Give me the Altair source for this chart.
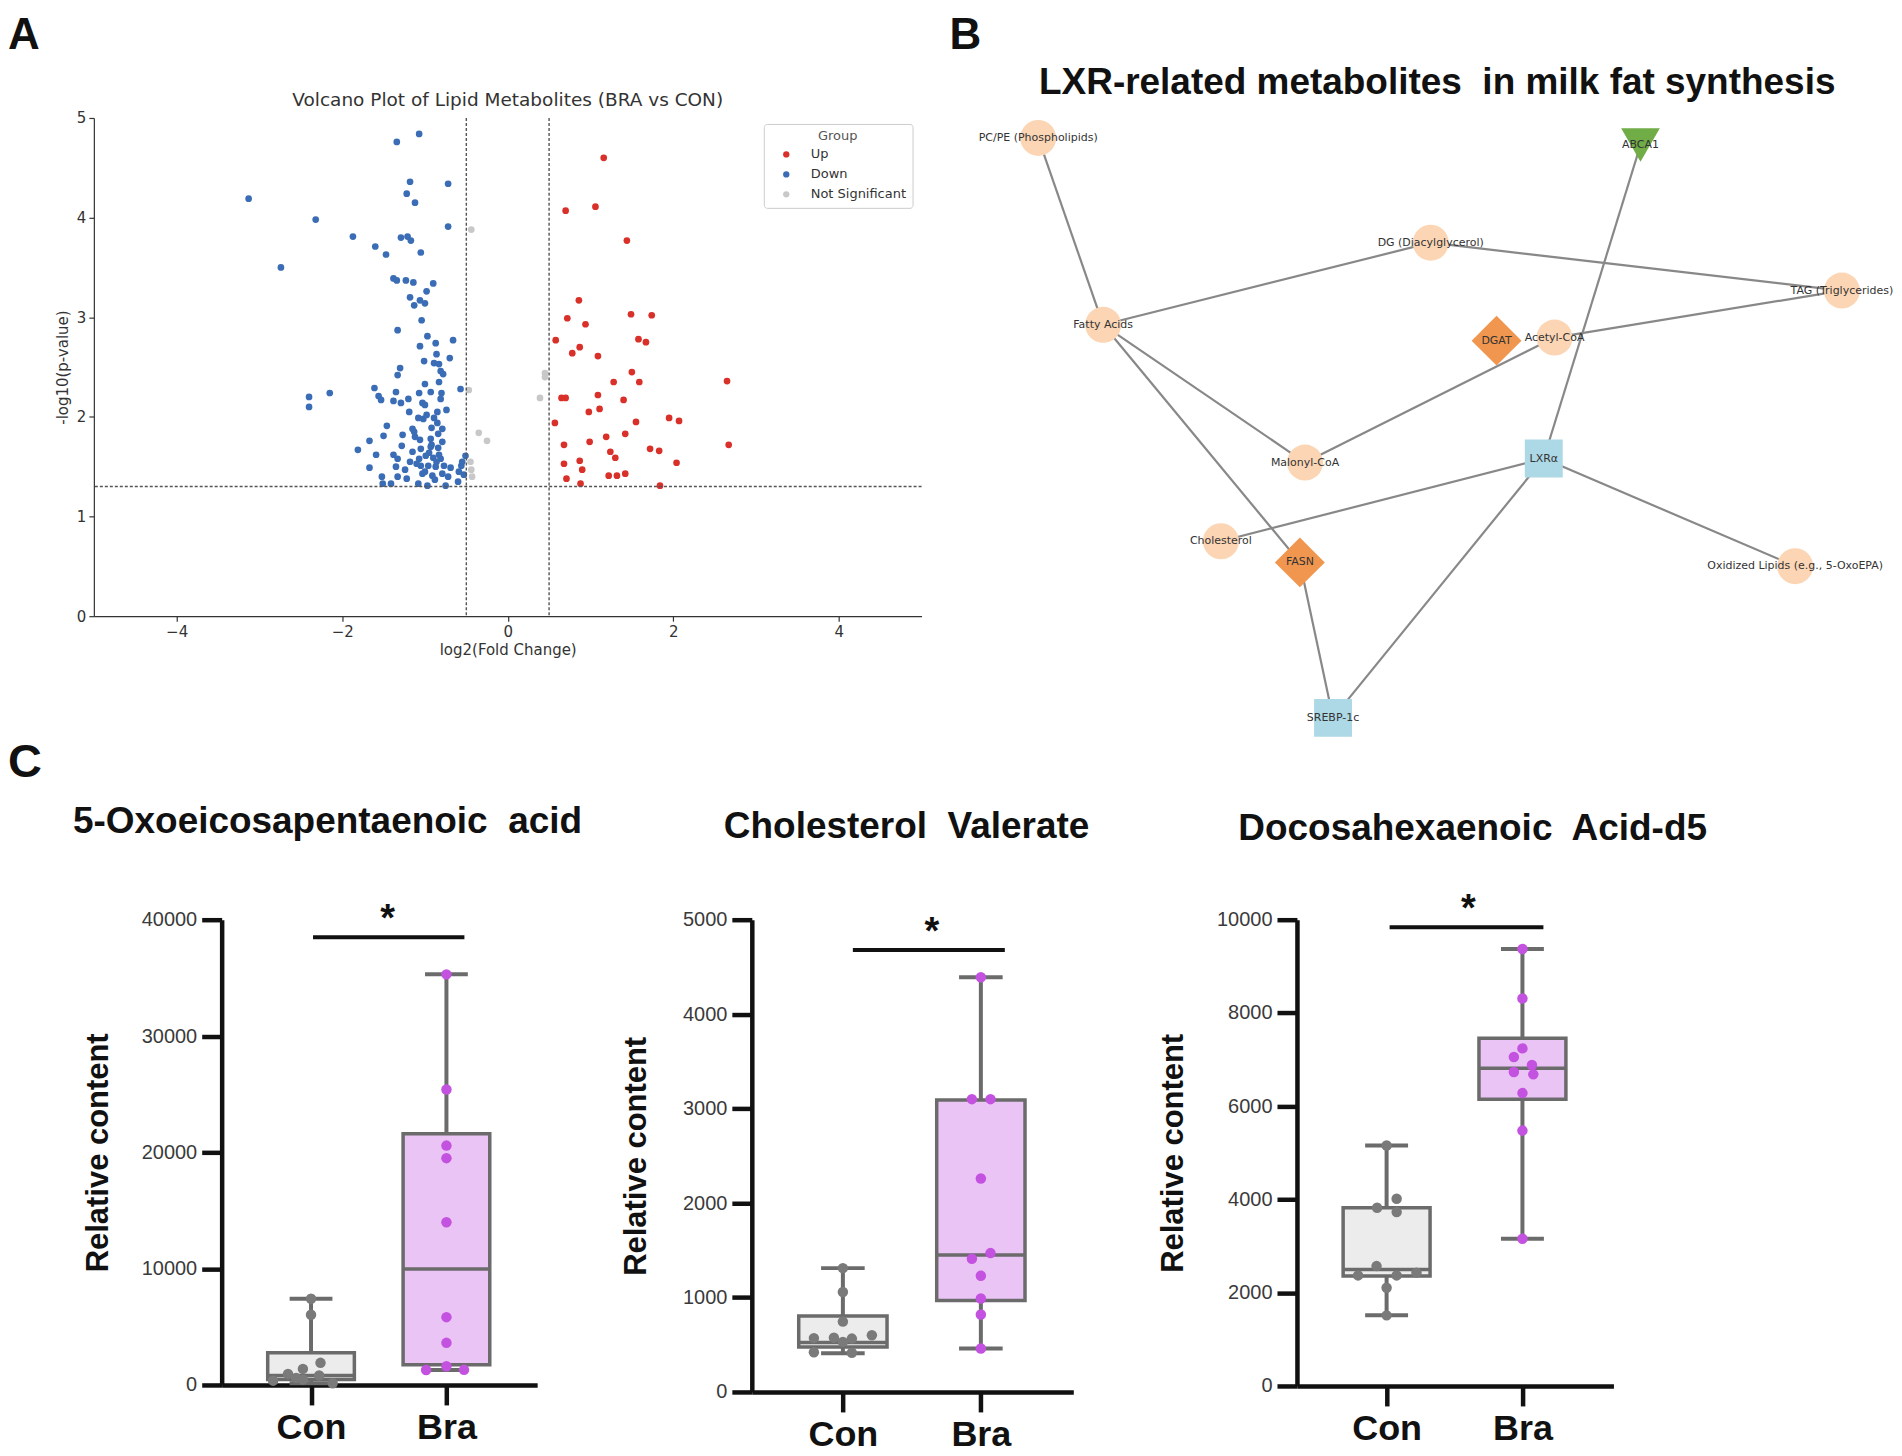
import json
import altair as alt
import pandas as pd

FA = "DejaVu Sans"
FB = "Liberation Sans"

# ---------------- Panel A: volcano data (log2FC, -log10 p) ----------------
down_pts = [
    (-1.07, 4.84), (-1.34, 4.76), (-1.18, 4.36), (-0.72, 4.34), (-3.13, 4.19), (-1.22, 4.24),
    (-1.12, 4.15), (-2.32, 3.98), (-0.72, 3.91), (-1.87, 3.81), (-1.29, 3.80), (-1.21, 3.81),
    (-1.17, 3.77), (-1.60, 3.71), (-1.47, 3.63), (-1.05, 3.65), (-2.74, 3.50), (-1.38, 3.39),
    (-1.34, 3.37), (-1.23, 3.37), (-1.14, 3.35), (-0.90, 3.34), (-0.98, 3.26), (-1.18, 3.20),
    (-1.06, 3.17), (-1.13, 3.12), (-1.00, 3.14), (-1.04, 2.97), (-1.33, 2.87),
    (-0.97, 2.81), (-0.66, 2.77), (-1.06, 2.71), (-0.87, 2.74), (-0.86, 2.63), (-0.70, 2.59),
    (-1.01, 2.56), (-0.89, 2.54), (-0.83, 2.53), (-1.30, 2.49), (-0.81, 2.46), (-1.33, 2.42),
    (-0.78, 2.43), (-0.83, 2.35), (-1.00, 2.33), (-1.61, 2.29), (-0.57, 2.28), (-2.15, 2.24),
    (-2.40, 2.20), (-2.40, 2.10), (-1.35, 2.25), (-1.07, 2.24), (-1.56, 2.21), (-0.80, 2.24),
    (-0.81, 2.18), (-1.53, 2.17), (-1.38, 2.16), (-1.29, 2.14), (-1.20, 2.18), (-1.03, 2.14),
    (-1.00, 2.12), (-0.74, 2.07), (-1.19, 2.05), (-1.08, 1.99), (-1.02, 1.98), (-0.89, 1.99),
    (-0.85, 1.94), (-1.46, 1.91), (-1.15, 1.88), (-1.13, 1.85), (-0.92, 1.89), (-0.79, 1.88),
    (-0.84, 1.83), (-1.50, 1.81), (-1.27, 1.82), (-1.67, 1.76), (-1.06, 1.77), (-0.93, 1.78),
    (-0.79, 1.75), (-1.81, 1.67), (-1.28, 1.71), (-1.05, 1.68), (-0.93, 1.70), (-0.84, 1.69),
    (-1.59, 1.62), (-1.38, 1.62), (-1.33, 1.58), (-1.18, 1.55), (-1.07, 1.58), (-0.99, 1.61),
    (-0.90, 1.59), (-0.81, 1.58), (-0.51, 1.61), (-1.67, 1.49), (-1.35, 1.50), (-1.24, 1.47),
    (-1.05, 1.51), (-0.96, 1.51), (-0.87, 1.50), (-0.77, 1.51), (-0.69, 1.49), (-0.56, 1.51),
    (-1.52, 1.40), (-1.33, 1.40), (-1.03, 1.43), (-0.91, 1.41), (-0.79, 1.43), (-0.59, 1.45),
    (-1.51, 1.33), (-1.41, 1.33), (-1.08, 1.33), (-0.97, 1.31), (-0.75, 1.31), (-0.60, 1.35),
    (-0.95, 1.64), (-1.10, 1.53), (-0.86, 1.55), (-1.00, 1.45), (-0.92, 1.72), (-0.83, 1.62),
    (-1.15, 1.65), (-0.88, 1.37), (-0.72, 1.40), (-1.22, 1.38), (-0.55, 1.55), (-0.53, 1.42),
    (-0.98, 2.02), (-0.93, 2.25), (-0.85, 2.05), (-1.12, 1.80),
]
up_pts = [
    (1.16, 4.60), (0.70, 4.07), (1.06, 4.11), (1.44, 3.77), (0.86, 3.17), (0.72, 2.99),
    (1.49, 3.03), (1.74, 3.02), (0.94, 2.93), (0.58, 2.77), (0.87, 2.70), (0.78, 2.64),
    (1.58, 2.78), (1.67, 2.75), (1.09, 2.61), (1.50, 2.45), (1.28, 2.35), (1.59, 2.35),
    (2.65, 2.36), (0.65, 2.19), (0.70, 2.19), (1.09, 2.22), (1.40, 2.17), (0.98, 2.05),
    (1.11, 2.08), (0.57, 1.94), (1.55, 1.95), (1.95, 1.99), (2.07, 1.96), (1.19, 1.80),
    (1.42, 1.83), (0.99, 1.75), (0.68, 1.72), (2.67, 1.72), (1.72, 1.68), (1.83, 1.66),
    (1.24, 1.65), (1.30, 1.59), (0.68, 1.53), (0.87, 1.56), (2.04, 1.54), (0.90, 1.47),
    (1.22, 1.41), (1.32, 1.41), (1.42, 1.43), (0.71, 1.38), (0.88, 1.33), (1.84, 1.31),
]
ns_pts = [
    (-0.44, 3.88), (-0.35, 1.84), (-0.25, 1.76), (-0.45, 1.55), (-0.44, 1.47), (-0.43, 1.40),
    (-0.47, 2.27), (0.45, 2.44), (0.45, 2.40), (0.39, 2.19),
]
fc_thresholds = [-0.5, 0.5]
p_threshold = [1.301]
group_names = ["Up", "Down", "Not Significant"]
group_colors = ["#d9302a", "#3a6db5", "#c8c8c8"]
volcano_title = ["Volcano Plot of Lipid Metabolites (BRA vs CON)"]

# ---------------- Panel B: network ----------------
node_names = ["PC/PE (Phospholipids)", "ABCA1", "DG (Diacylglycerol)", "TAG (Triglycerides)",
              "Fatty Acids", "DGAT", "Acetyl-CoA", "Malonyl-CoA", "LXRα", "Cholesterol",
              "FASN", "Oxidized Lipids (e.g., 5-OxoEPA)", "SREBP-1c"]
node_x = [-0.823, 0.466, 0.017, 0.897, -0.684, 0.158, 0.282, -0.252, 0.259, -0.432, -0.263, 0.797, -0.192]
node_y = [0.936, 0.913, 0.599, 0.445, 0.335, 0.284, 0.294, -0.108, -0.095, -0.361, -0.429, -0.441, -0.929]
node_type = ["metabolite", "transporter", "metabolite", "metabolite", "metabolite", "enzyme",
             "metabolite", "metabolite", "tf", "metabolite", "enzyme", "metabolite", "tf"]
edge_src = ["PC/PE (Phospholipids)", "Fatty Acids", "DG (Diacylglycerol)", "Acetyl-CoA", "Fatty Acids",
            "Malonyl-CoA", "Fatty Acids", "FASN", "SREBP-1c", "LXRα", "LXRα", "LXRα"]
edge_dst = ["Fatty Acids", "DG (Diacylglycerol)", "TAG (Triglycerides)", "TAG (Triglycerides)", "Malonyl-CoA",
            "Acetyl-CoA", "FASN", "SREBP-1c", "LXRα", "ABCA1", "Cholesterol", "Oxidized Lipids (e.g., 5-OxoEPA)"]
network_title = ["LXR-related metabolites\u00a0 in milk fat synthesis"]

# ---------------- Panel C: box plots ----------------
c_categories = ["Con", "Bra"]

oxo_con = [7410, 6030, 1900, 1380, 950, 820, 590, 470, 370, 150]
oxo_con_dodge = [0, 0, 0.07, -0.06, -0.17, 0.06, -0.11, -0.06, -0.28, 0.16]
oxo_bra = [35300, 25400, 20580, 19500, 13990, 5830, 3620, 1610, 1290, 1300]
oxo_bra_dodge = [0, 0, 0, 0, 0, 0, 0, 0, -0.15, 0.13]
oxo_min, oxo_q1, oxo_med, oxo_q3, oxo_max = [150, 1290], [460, 1730], [820, 9970], [2760, 21590], [7410, 35300]

chol_con = [1311, 1059, 745, 600, 570, 575, 565, 530, 420, 415]
chol_con_dodge = [0, 0, 0, 0.21, -0.21, -0.065, 0.065, 0, -0.21, 0.065]
chol_bra = [4390, 3100, 3100, 2260, 1470, 1410, 1230, 990, 820, 460]
chol_bra_dodge = [0, -0.065, 0.07, 0, 0.07, -0.065, 0, 0, 0, 0]
chol_min, chol_q1, chol_med, chol_q3, chol_max = [410, 460], [476, 968], [524, 1450], [804, 3092], [1311, 4390]

dha_con = [5157, 4014, 3821, 3729, 2571, 2430, 2371, 2371, 2107, 1514]
dha_con_dodge = [0, 0.074, -0.07, 0.074, -0.074, 0.22, -0.21, 0.074, 0, 0]
dha_bra = [9370, 8310, 7240, 7055, 6884, 6734, 6683, 6281, 5477, 3156]
dha_bra_dodge = [0, 0, 0, -0.063, 0.07, -0.063, 0.08, 0, 0, 0]
dha_min, dha_q1, dha_med, dha_q3, dha_max = [1514, 3156], [2357, 6150], [2500, 6814], [3821, 7457], [5157, 9370]

sig_levels = [38500, 4680, 9840]
c_titles = ["5-Oxoeicosapentaenoic\u00a0 acid", "Cholesterol\u00a0 Valerate", "Docosahexaenoic\u00a0 Acid-d5"]
panel_letters = ["A", "B", "C"]


def text_layer(txt, x, y, size, font=FB, weight="bold", color="#111", align="left"):
    return alt.Chart(pd.DataFrame({"t": [txt]})).mark_text(
        font=font, fontSize=size, fontWeight=weight, color=color, align=align, baseline="alphabetic"
    ).encode(x=alt.value(x), y=alt.value(y), text="t:N")


# ================= Panel A chart =================
A_W, A_H = 829, 499
rows = []
for g, pts in zip(group_names, [up_pts, down_pts, ns_pts]):
    for x, y in pts:
        rows.append({"log2fc": x, "nlogp": y, "Group": g})
df_v = pd.DataFrame(rows)

xs_a = alt.Scale(domain=[-5, 5], nice=False, zero=False)
ys_a = alt.Scale(domain=[0, 5], nice=False, zero=False)
ax_common = dict(grid=False, domainColor="#333", domainWidth=1.2, tickColor="#333", tickWidth=1.2,
                 tickSize=5, labelFont=FA, labelFontSize=15, labelColor="#333", labelPadding=3,
                 titleFont=FA, titleFontSize=15, titleFontWeight="normal", titleColor="#333")
xaxis_a = alt.Axis(values=[-4, -2, 0, 2, 4], title="log2(Fold Change)", titlePadding=3, **ax_common)
yaxis_a = alt.Axis(values=[0, 1, 2, 3, 4, 5], title="-log10(p-value)", titlePadding=6, **ax_common)
pts_a = alt.Chart(df_v).mark_circle(size=45, opacity=1).encode(
    x=alt.X("log2fc:Q", scale=xs_a, axis=xaxis_a),
    y=alt.Y("nlogp:Q", scale=ys_a, axis=yaxis_a),
    color=alt.Color("Group:N", scale=alt.Scale(domain=group_names, range=group_colors),
                    legend=alt.Legend(title="Group", orient="none", legendX=671, legendY=6,
                                      direction="vertical", padding=6, strokeColor="#cccccc",
                                      fillColor="white", cornerRadius=3, titleFont=FA, titleFontSize=13,
                                      titleFontWeight="normal", titleColor="#555", titleAnchor="middle",
                                      titlePadding=5, labelFont=FA, labelFontSize=13, labelColor="#333",
                                      symbolSize=40, symbolType="circle", symbolOffset=10,
                                      labelOffset=18, rowPadding=6)),
)
vr_a = alt.Chart(pd.DataFrame({"log2fc": fc_thresholds})).mark_rule(
    color="#555", strokeWidth=1.4, strokeDash=[3, 2]).encode(x=alt.X("log2fc:Q", scale=xs_a, axis=xaxis_a))
hr_a = alt.Chart(pd.DataFrame({"nlogp": p_threshold})).mark_rule(
    color="#555", strokeWidth=1.4, strokeDash=[3, 2]).encode(y=alt.Y("nlogp:Q", scale=ys_a, axis=yaxis_a))
chart_a = alt.layer(
    pts_a, vr_a, hr_a,
    text_layer(volcano_title[0], A_W / 2, -11.5, 18.5, font=FA, weight="normal", color="#333", align="center"),
    text_layer(panel_letters[0], -86, -69, 44),
).properties(width=A_W, height=A_H)

# ================= Panel B chart =================
B_W, B_H = 936, 623
df_n = pd.DataFrame({"name": node_names, "x": node_x, "y": node_y, "type": node_type})
pos = {n: (x, y) for n, x, y in zip(node_names, node_x, node_y)}
df_e = pd.DataFrame({"x": [pos[s][0] for s in edge_src], "y": [pos[s][1] for s in edge_src],
                     "x2": [pos[d][0] for d in edge_dst], "y2": [pos[d][1] for d in edge_dst]})
xs_b = alt.Scale(domain=[-1, 1], nice=False, zero=False)
ys_b = alt.Scale(domain=[-1, 1], nice=False, zero=False)
edges = alt.Chart(df_e).mark_rule(color="#888888", strokeWidth=2.2).encode(
    x=alt.X("x:Q", scale=xs_b, axis=None), y=alt.Y("y:Q", scale=ys_b, axis=None), x2="x2:Q", y2="y2:Q")
node_style = {
    "metabolite": ("circle", "#fcd6b4", 1300),
    "enzyme": ("diamond", "#f0964f", 2500),
    "tf": ("square", "#add8e6", 1444),
    "transporter": ("triangle-down", "#70ad47", 1500),
}
node_layers = []
for t, (shape, col, size) in node_style.items():
    node_layers.append(
        alt.Chart(df_n).transform_filter(alt.datum.type == t).mark_point(
            shape=shape, filled=True, color=col, size=size, opacity=1, strokeWidth=0
        ).encode(x=alt.X("x:Q", scale=xs_b, axis=None), y=alt.Y("y:Q", scale=ys_b, axis=None))
    )
labels_b = alt.Chart(df_n).mark_text(font=FA, fontSize=11, color="#333", align="center",
                                     baseline="middle").encode(
    x=alt.X("x:Q", scale=xs_b, axis=None), y=alt.Y("y:Q", scale=ys_b, axis=None), text="name:N")
chart_b = alt.layer(
    edges, *node_layers, labels_b,
    text_layer(network_title[0], 482.5, -24, 37, align="center"),
    text_layer(panel_letters[1], -6, -69, 44),
).properties(width=B_W, height=B_H)

# ================= Panel C charts =================
LINE = "#6b6b6b"
CON_FILL, BRA_FILL = "#ececec", "#ebc4f6"
CON_PT, BRA_PT = "#7a7a7a", "#c452e0"
BOX_HW, CAP_HW = 0.32, 0.158


def box_panel(con, con_d, bra, bra_d, mins, q1s, meds, q3s, maxs, ymax, ystep, sig_y, sig_off,
              star_dx, W, H, title, title_xy, ytitle_pad, letter=None):
    idx = {c: i for i, c in enumerate(c_categories)}
    df_pts = pd.DataFrame({"grp": ["Con"] * len(con) + ["Bra"] * len(bra), "val": con + bra,
                           "dodge": con_d + bra_d})
    df_pts["pos"] = df_pts["grp"].map(idx)
    df_box = pd.DataFrame({"grp": c_categories, "pos": [idx[c] for c in c_categories], "mn": mins,
                           "q1": q1s, "med": meds, "q3": q3s, "mx": maxs})
    df_cap = df_box.melt(id_vars=["grp", "pos"], value_vars=["mn", "mx"], value_name="v")
    df_sig = pd.DataFrame({"p0": [idx["Con"]], "p1": [idx["Bra"]], "y": [sig_y]})
    xs = alt.Scale(domain=[-0.66, 1.67], nice=False, zero=False)
    ys = alt.Scale(domain=[0, ymax], nice=False, zero=False)
    xaxis = alt.Axis(values=list(range(len(c_categories))), labelExpr=f"{json.dumps(c_categories)}[datum.value]",
                     title=None, grid=False, domainColor="#111", domainWidth=4.5,
                     tickColor="#111", tickWidth=4.5, tickSize=20, labelFont=FB, labelFontSize=36,
                     labelFontWeight="bold", labelColor="#111", labelPadding=6, labelFlush=False)
    yaxis = alt.Axis(values=list(range(0, ymax + 1, ystep)), format="d", title="Relative content", grid=False,
                     domainColor="#111", domainWidth=4.5, tickColor="#111",
                     tickWidth=4.5, tickSize=20, labelFont=FB, labelFontSize=20, labelColor="#3a3a3a",
                     labelPadding=5, titleFont=FB, titleFontSize=31, titleFontWeight="bold",
                     titleColor="#111", titlePadding=ytitle_pad)
    X = lambda f: alt.X(f, scale=xs, axis=xaxis)
    Y = lambda f: alt.Y(f, scale=ys, axis=yaxis)
    whisk = alt.Chart(df_box).mark_rule(color=LINE, strokeWidth=4).encode(
        x=X("pos:Q"), y=Y("mn:Q"), y2="mx:Q")
    caps = alt.Chart(df_cap).transform_calculate(
        cl=f"datum.pos - {CAP_HW}", cr=f"datum.pos + {CAP_HW}"
    ).mark_rule(color=LINE, strokeWidth=4).encode(x=X("cl:Q"), x2="cr:Q", y=Y("v:Q"))
    layers = [whisk, caps]
    for g, fill in [("Con", CON_FILL), ("Bra", BRA_FILL)]:
        layers.append(alt.Chart(df_box).transform_filter(alt.datum.grp == g).transform_calculate(
            bl=f"datum.pos - {BOX_HW}", br=f"datum.pos + {BOX_HW}"
        ).mark_rect(fill=fill, stroke=LINE, strokeWidth=3.5).encode(
            x=X("bl:Q"), x2="br:Q", y=Y("q1:Q"), y2="q3:Q"))
    layers.append(alt.Chart(df_box).transform_calculate(
        bl=f"datum.pos - {BOX_HW}", br=f"datum.pos + {BOX_HW}"
    ).mark_rule(color=LINE, strokeWidth=3.5).encode(x=X("bl:Q"), x2="br:Q", y=Y("med:Q")))
    for g, col in [("Con", CON_PT), ("Bra", BRA_PT)]:
        layers.append(alt.Chart(df_pts).transform_filter(alt.datum.grp == g).transform_calculate(
            xp="datum.pos + datum.dodge"
        ).mark_circle(size=110, color=col, opacity=1).encode(x=X("xp:Q"), y=Y("val:Q")))
    layers.append(alt.Chart(df_sig).mark_rule(color="#111", strokeWidth=4, xOffset=sig_off[0],
                                              x2Offset=sig_off[1]).encode(x=X("p0:Q"), x2="p1:Q", y=Y("y:Q")))
    layers.append(alt.Chart(df_sig).transform_calculate(pm="(datum.p0 + datum.p1) / 2").mark_text(
        text="*", font=FB, fontSize=38, fontWeight="bold", color="#111", dx=star_dx, dy=-6,
        baseline="alphabetic", align="center").encode(x=X("pm:Q"), y=Y("y:Q")))
    layers.append(text_layer(title, title_xy[0], title_xy[1], 37, align="center"))
    if letter:
        layers.append(text_layer(letter, -214, -143, 47))
    return alt.layer(*layers).properties(width=W, height=H)


c1 = box_panel(oxo_con, oxo_con_dodge, oxo_bra, oxo_bra_dodge, oxo_min, oxo_q1, oxo_med, oxo_q3, oxo_max,
               40000, 10000, sig_levels[0], (2, 18), 9, 316, 466, c_titles[0], (106, -87), 27,
               letter=panel_letters[2])
c2 = box_panel(chol_con, chol_con_dodge, chol_bra, chol_bra_dodge, chol_min, chol_q1, chol_med, chol_q3,
               chol_max, 5000, 1000, sig_levels[1], (10, 24), 20, 322, 473, c_titles[1], (155, -82), 30)
c3 = box_panel(dha_con, dha_con_dodge, dha_bra, dha_bra_dodge, dha_min, dha_q1, dha_med, dha_q3, dha_max,
               10000, 2000, sig_levels[2], (3, 21), 14, 317, 467, c_titles[2], (176, -80), 27)


def spacer(w):
    return alt.Chart(pd.DataFrame({"s": [0]})).mark_point(opacity=0).encode(
        x=alt.X("s:Q", axis=None), y=alt.Y("s:Q", axis=None)).properties(width=w, height=1)


top_row = alt.hconcat(chart_a, chart_b, spacing=34, bounds="flush")
bottom_row = alt.hconcat(spacer(128), c1, spacer(215), c2, spacer(224), c3, spacing=0, bounds="flush")
# rows are nested groups: with flush bounds the row offset equals the spacing (920 - 117)
chart = alt.vconcat(top_row, bottom_row, spacing=803, bounds="flush").properties(
    padding={"top": 5, "left": 0, "right": 0, "bottom": 0}, background="white"
).configure_view(stroke=None)

chart.save("out.html", embed_options={"renderer": "svg", "actions": False})
